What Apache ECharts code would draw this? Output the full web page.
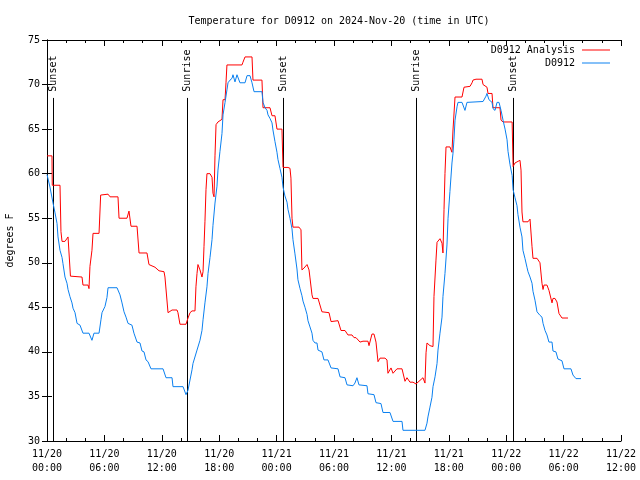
<!DOCTYPE html>
<html>
<head>
<meta charset="utf-8">
<script src="https://cdn.jsdelivr.net/npm/echarts@6/dist/echarts.min.js"></script>
<style>html,body{margin:0;padding:0;background:#fff;}#c{width:640px;height:480px;}</style>
</head>
<body>
<div id="c"></div>
<script>
// Hours since 11/20 00:00 UTC
var analysisHours = [0,0.52,0.55,1.36,1.46,1.57,1.88,2.2,2.3,2.45,2.61,3.66,3.76,4.29,4.39,4.49,4.70,4.81,5.44,5.61,6.38,6.59,7.42,7.53,8.36,8.57,8.78,9.41,9.62,10.45,10.66,11.29,11.71,12.23,12.33,12.65,13.07,13.59,13.69,13.9,14.53,14.74,14.95,15.16,15.47,15.57,15.68,15.78,15.99,16.2,16.31,16.41,16.51,16.62,16.72,17.04,17.25,17.35,17.46,17.56,17.67,17.87,18.29,18.4,18.61,18.71,18.81,20.38,20.48,20.70,21.43,21.53,22.47,22.58,23.31,23.52,23.83,24.04,24.56,24.67,25.19,25.4,25.5,25.61,25.71,26.34,26.55,26.65,26.86,27.18,27.39,27.49,27.70,27.8,28.33,28.43,28.74,29.48,29.69,30.42,30.73,31.15,31.46,31.88,32.09,32.30,32.4,32.72,33.03,33.55,33.66,33.97,34.18,34.39,34.6,34.81,35.33,35.54,35.64,35.96,36.17,36.58,37.11,37.42,37.63,37.94,38.26,38.57,38.78,39.30,39.51,39.62,39.72,40.03,40.35,40.45,40.66,40.77,41.08,41.29,41.39,41.5,41.6,41.71,42.12,42.33,42.44,42.65,43.38,43.48,43.59,44.22,44.43,44.53,44.84,45.47,45.58,45.99,46.10,46.52,46.62,47.35,47.46,47.67,48.62,48.72,48.92,49.44,49.55,49.65,49.75,50.28,50.49,50.70,50.80,51.22,51.32,51.53,51.74,51.85,51.95,52.26,52.47,52.79,52.89,53.10,53.31,53.52,53.83,54.46];
var analysisTemps = [62.0,62.0,58.7,58.7,53.5,52.4,52.4,52.9,52.9,48.5,48.4,48.4,47.5,47.5,47.1,49.6,51.4,53.3,53.3,57.6,57.7,57.4,57.4,55.0,55.0,55.8,54.1,54.1,51.1,51.1,49.8,49.5,49.1,49.0,48.4,44.4,44.7,44.7,44.4,43.1,43.1,43.8,44.4,44.6,44.6,47.3,48.8,49.8,49.2,48.4,49.0,51.8,54.6,58.2,60.0,60.0,59.6,57.8,57.4,62.0,65.5,65.8,66.1,68.3,68.3,70.2,72.2,72.2,72.5,73.1,73.1,70.5,70.5,67.4,67.4,66.5,66.5,65.0,65.0,60.7,60.7,60.6,59.5,55.0,54.0,54.0,53.7,49.2,49.4,49.8,49.2,48.3,46.4,46.0,46.0,46.2,44.5,44.4,43.4,43.5,42.4,42.4,41.9,41.9,41.6,41.6,41.7,41.1,41.2,41.2,40.7,42.0,42.0,41.1,38.9,39.3,39.3,39.1,37.6,38.2,37.6,38.1,38.1,36.7,37.1,36.6,36.6,36.4,36.6,37.1,36.5,39.9,41.0,40.7,40.6,46.2,50.3,52.3,52.7,52.2,51.1,56.0,60.0,63.0,63.0,62.4,64.9,68.6,68.6,68.8,69.7,69.8,70.2,70.5,70.6,70.6,70.0,69.7,69.0,69.0,67.4,67.4,66.0,65.8,65.8,60.8,61.2,61.5,60.4,55.7,54.6,54.6,54.9,51.8,50.5,50.5,50.3,50.0,47.7,47.0,47.5,47.5,46.9,45.5,46.0,46.0,45.6,44.3,43.8,43.8];

var obsHours = [0,0.31,0.63,0.84,1.05,1.15,1.36,1.57,1.67,1.88,2.09,2.2,2.4,2.61,2.72,2.93,3.14,3.45,3.76,4.39,4.70,4.81,4.91,5.44,5.64,5.75,6.06,6.27,6.38,7.32,7.63,7.84,8.05,8.26,8.47,8.88,9.09,9.41,9.72,9.93,10.14,10.35,10.56,10.87,12.13,12.44,13.07,13.17,14.22,14.53,14.74,15.16,15.26,15.68,15.99,16.2,16.31,16.51,16.72,16.83,17.04,17.25,17.35,17.56,17.77,17.87,18.08,18.29,18.4,18.61,18.81,18.92,19.13,19.34,19.44,19.65,19.86,20.17,20.70,20.91,21.22,21.43,21.64,22.47,22.58,22.79,23.0,23.1,23.31,23.52,23.62,23.83,24.04,24.14,24.35,24.56,24.67,24.87,25.09,25.19,25.4,25.61,25.71,25.92,26.13,26.23,26.45,26.65,26.76,26.97,27.18,27.28,27.49,27.7,27.8,28.01,28.22,28.33,28.74,28.95,29.37,29.69,30.42,30.63,31.15,31.36,31.99,32.19,32.40,32.61,33.45,33.55,34.18,34.39,34.91,35.12,35.85,36.17,37.11,37.21,39.51,39.72,39.82,40.03,40.24,40.35,40.56,40.77,40.87,41.08,41.29,41.39,41.6,41.81,41.92,42.12,42.33,42.44,42.54,42.65,42.86,42.96,43.38,43.69,43.9,45.58,45.89,45.99,46.20,46.52,46.62,46.83,47.04,47.25,47.46,47.67,47.88,48.09,48.19,48.4,48.62,48.72,48.92,49.13,49.23,49.44,49.65,49.75,49.96,50.17,50.28,50.49,50.70,50.80,51.01,51.22,51.53,51.74,51.85,52.06,52.26,52.47,52.79,52.89,53.20,53.41,53.83,54.04,54.77,54.98,55.29,55.82];
var obsTemps = [59.9,58.5,56.7,55.6,54.4,52.9,51.4,50.6,49.9,48.4,47.7,47.0,46.2,45.5,44.9,44.4,43.2,43.0,42.1,42.1,41.3,41.1,42.1,42.1,43.6,44.4,45.1,46.1,47.2,47.2,46.4,45.5,44.5,43.9,43.2,43.0,42.1,41.1,41.0,40.1,40.0,39.1,38.9,38.1,38.1,37.1,37.1,36.1,36.1,35.2,35.7,38.0,38.7,40.2,41.3,42.4,43.6,45.5,47.3,48.8,50.6,52.6,54.2,56.7,58.6,60.4,62.5,64.5,66.6,68.0,69.4,70.2,70.5,70.7,71.1,70.3,71.1,70.2,70.2,71.0,71.0,70.2,69.2,69.2,68.0,67.4,67.1,66.6,66.2,65.7,64.9,63.6,62.4,61.6,60.6,59.6,58.5,57.5,56.8,56.0,55.0,53.8,52.6,51.0,49.3,48.1,47.1,46.3,45.7,45.0,44.2,43.5,42.8,42.1,41.3,41.0,41.0,40.2,40.0,39.1,39.1,38.2,38.1,37.2,37.1,36.3,36.2,36.5,37.1,36.3,36.2,35.3,35.2,34.3,34.2,33.2,33.2,32.2,32.2,31.2,31.2,32.0,32.7,33.8,34.9,36.1,37.2,38.7,40.2,42.1,43.9,46.2,48.8,52.0,55.0,58.0,61.2,62.3,63.8,66.0,67.5,68.0,68.0,67.1,68.0,68.1,68.7,69.0,68.3,68.0,67.3,67.1,68.0,68.0,67.1,66.0,65.0,63.8,62.5,61.0,59.8,58.2,57.3,56.4,55.4,54.0,52.9,51.4,50.5,49.5,49.0,48.4,47.7,46.8,45.8,44.5,44.1,43.9,43.2,42.4,41.9,41.1,41.1,40.1,40.0,39.2,39.0,38.1,38.1,37.4,37.0,37.0];

var sunHours = [0.66, 14.6, 24.70, 38.57, 48.74];
var sunLabels = ['Sunset', 'Sunrise', 'Sunset', 'Sunrise', 'Sunset'];

var xTickLabels = ['11/20\n00:00','11/20\n06:00','11/20\n12:00','11/20\n18:00','11/21\n00:00','11/21\n06:00','11/21\n12:00','11/21\n18:00','11/22\n00:00','11/22\n06:00','11/22\n12:00'];
var seriesNames = ['D0912 Analysis', 'D0912'];
var titleText = 'Temperature for D0912 on 2024-Nov-20 (time in UTC)';

function zip(a, b) { return a.map(function (v, i) { return [v, b[i]]; }); }

var FONT = 'DejaVu Sans Mono';
var chart = echarts.init(document.getElementById('c'), null, { renderer: 'canvas' });

var xCommon = {
  type: 'value', min: 0, max: 60, interval: 6,
  axisLine: { show: true, lineStyle: { color: '#000', width: 1 } },
  axisTick: { show: true, inside: true, length: 6, lineStyle: { color: '#000' } },
  minorTick: { show: true, splitNumber: 3, length: 3, lineStyle: { color: '#000' } },
  splitLine: { show: false },
  minorSplitLine: { show: false }
};
var yCommon = {
  type: 'value', min: 30, max: 75, interval: 5,
  axisLine: { show: true, lineStyle: { color: '#000', width: 1 } },
  axisTick: { show: true, inside: true, length: 5, lineStyle: { color: '#000' } },
  splitLine: { show: false }
};

var option = {
  animation: false,
  backgroundColor: '#fff',
  title: {
    text: titleText, left: 334, top: 11, textAlign: 'center',
    textStyle: { fontFamily: FONT, fontSize: 10, fontWeight: 'normal', color: '#000' }
  },
  legend: {
    data: seriesNames, orient: 'vertical', right: 25, top: 39, align: 'right',
    icon: 'rect', itemWidth: 28, itemHeight: 1, itemGap: 1,
    textStyle: { fontFamily: FONT, fontSize: 10, color: '#000', lineHeight: 12, padding: [0, 2, 0, 0] }
  },
  grid: { left: 47, right: 19, top: 40, bottom: 39, containLabel: false, outerBoundsMode: 'none' },
  xAxis: [
    Object.assign({}, xCommon, {
      position: 'bottom',
      axisLabel: {
        fontFamily: FONT, fontSize: 10, color: '#000', lineHeight: 14, margin: 6,
        formatter: function (v) { return xTickLabels[Math.round(v / 6)]; }
      }
    }),
    Object.assign({}, xCommon, { position: 'top', axisLabel: { show: false } })
  ],
  yAxis: [
    Object.assign({}, yCommon, {
      position: 'left',
      name: 'degrees F', nameLocation: 'middle', nameGap: 32, nameRotate: 90,
      nameTextStyle: { fontFamily: FONT, fontSize: 10, color: '#000' },
      axisLabel: { fontFamily: FONT, fontSize: 10, color: '#000', margin: 7 }
    }),
    Object.assign({}, yCommon, { position: 'right', axisLabel: { show: false } })
  ],
  series: [
    {
      name: seriesNames[0], type: 'line', xAxisIndex: 0, yAxisIndex: 0,
      data: zip(analysisHours, analysisTemps), showSymbol: false, symbol: 'none',
      color: '#ff0000', lineStyle: { color: '#ff0000', width: 1 }, z: 3
    },
    {
      name: seriesNames[1], type: 'line', xAxisIndex: 0, yAxisIndex: 0,
      data: zip(obsHours, obsTemps), showSymbol: false, symbol: 'none',
      color: '#0a80f0', lineStyle: { color: '#0a80f0', width: 1 }, z: 4
    },
    {
      name: 'sun', type: 'custom', xAxisIndex: 0, yAxisIndex: 0, clip: false, z: 2,
      data: sunHours.map(function (h) { return [h, 30]; }),
      encode: { x: 0, y: 1 },
      renderItem: function (params, api) {
        var t = api.value(0);
        var p0 = api.coord([t, 30]);
        var p1 = api.coord([t, 68.5]);
        var pl = api.coord([t, 69.2]);
        var x = Math.round(p0[0]) + 0.5;
        return {
          type: 'group',
          children: [
            { type: 'line', shape: { x1: x, y1: p0[1], x2: x, y2: p1[1] }, style: { stroke: '#000', lineWidth: 1 } },
            { type: 'text', x: x, y: pl[1], rotation: Math.PI / 2,
              style: { text: sunLabels[params.dataIndex], fill: '#000', font: '10px "DejaVu Sans Mono"', align: 'left', verticalAlign: 'middle' } }
          ]
        };
      }
    }
  ]
};
chart.setOption(option);
</script>
</body>
</html>
